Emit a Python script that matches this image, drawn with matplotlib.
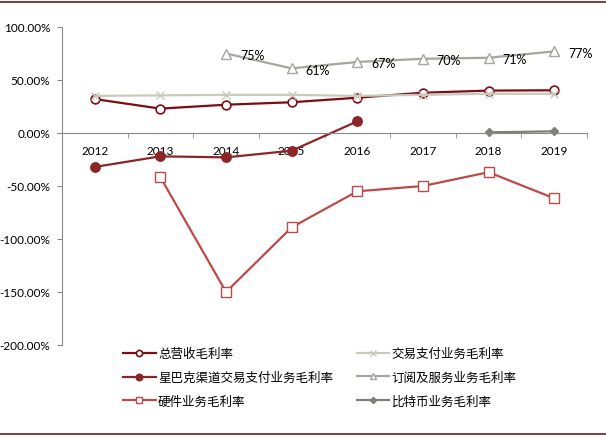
import matplotlib
matplotlib.use("Agg")
import matplotlib.pyplot as plt
from matplotlib.ticker import FuncFormatter, FixedLocator
from matplotlib.lines import Line2D
import numpy as np

plt.rcParams['font.family'] = ['Lato', 'Noto Sans CJK SC', 'DejaVu Sans']

years = ['2012', '2013', '2014', '2015', '2016', '2017', '2018', '2019']
nan = np.nan
# gross margin, %
total_gm = [32, 23, 26.7, 29, 33.3, 38, 40, 40.3]
payment_gm = [35, 35.5, 36, 36, 35, 36, 37, 37]
starbucks_gm = [-32, -22, -23, -16.7, 11, nan, nan, nan]
subscription_gm = [nan, nan, 75, 61, 67, 70, 71, 77]
hardware_gm = [nan, -41.8, -150, -89, -55, -50, -37, -61.6]
bitcoin_gm = [nan, nan, nan, nan, nan, nan, 0.6, 1.6]

names = ['总营收毛利率', '交易支付业务毛利率', '星巴克渠道交易支付业务毛利率',
         '订阅及服务业务毛利率', '硬件业务毛利率', '比特币业务毛利率']

fig = plt.figure(figsize=(6.06, 4.39), dpi=100)
ax = fig.add_axes([62 / 606, 93 / 439, 525 / 606, 318 / 439])
x = np.arange(len(years))

l_total, = ax.plot(x, total_gm, color='#7a0e12', lw=1.6, marker='o', ms=6.3,
                   mfc='white', mec='#7a0e12', mew=1.2, label=names[0])
l_pay, = ax.plot(x, payment_gm, color='#cac9c0', lw=1.6, marker='x', ms=6,
                 mec='#cac9c0', mew=1.0, label=names[1])
l_sbux, = ax.plot(x, starbucks_gm, color='#8c2626', lw=1.6, marker='o', ms=6.8,
                  mfc='#8c2626', mec='#8c2626', label=names[2])
l_sub, = ax.plot(x, subscription_gm, color='#a6a69e', lw=1.6, marker='^', ms=7,
                 mfc='white', mec='#a6a69e', mew=1.0, label=names[3])
l_hw, = ax.plot(x, hardware_gm, color='#bc4a48', lw=1.6, marker='s', ms=6.5,
                mfc='white', mec='#bc4a48', mew=1.0, label=names[4])
l_btc, = ax.plot(x, bitcoin_gm, color='#7f7f78', lw=1.6, marker='D', ms=4.5,
                 mfc='#7f7f78', mec='#7f7f78', label=names[5])

for xi, v in zip(x, subscription_gm):
    if not np.isnan(v):
        ax.annotate(f"{v:.0f}%", (xi, v), xytext=(10, -1), textcoords='offset points',
                    ha='left', va='center', fontsize=9)

ax.set_xlim(-0.5, len(years) - 0.5)
ax.set_ylim(-200, 100)
ax.set_yticks(np.arange(-200, 101, 50))
ax.yaxis.set_major_formatter(FuncFormatter(lambda v, p: f"{v:.2f}%"))

ax.set_xticks(x)
ax.set_xticklabels(years)
ax.xaxis.set_minor_locator(FixedLocator(np.arange(-0.5, len(years), 1.0)))
ax.tick_params(axis='x', which='major', length=0, pad=8.5, labelsize=8.5)
ax.tick_params(axis='x', which='minor', length=3.5, direction='out', color='#898989')
ax.tick_params(axis='y', length=3.5, direction='out', color='#898989', labelsize=8.5, pad=5)

for s in ['top', 'right']:
    ax.spines[s].set_visible(False)
ax.spines['bottom'].set_position(('data', 0))
ax.spines['bottom'].set_color('#898989')
ax.spines['left'].set_color('#898989')

handles = [l_total, l_sbux, l_hw, l_pay, l_sub, l_btc]
fig.legend(handles=handles, labels=[h.get_label() for h in handles], ncol=2,
           loc='upper left', bbox_to_anchor=(123 / 606, 1 - 348 / 439),
           frameon=False, fontsize=9, handlelength=2.6, handletextpad=0.2,
           columnspacing=1.9, labelspacing=0.92, markerscale=0.7, borderpad=0,
           borderaxespad=0)

# report frame lines
fig.add_artist(Line2D([0, 1], [1 - 3 / 439, 1 - 3 / 439], color='#6e1a1a', lw=1.2))
fig.add_artist(Line2D([0, 1], [4 / 439, 4 / 439], color='#6e1a1a', lw=1.2))

fig.savefig('out.png', dpi=100)
